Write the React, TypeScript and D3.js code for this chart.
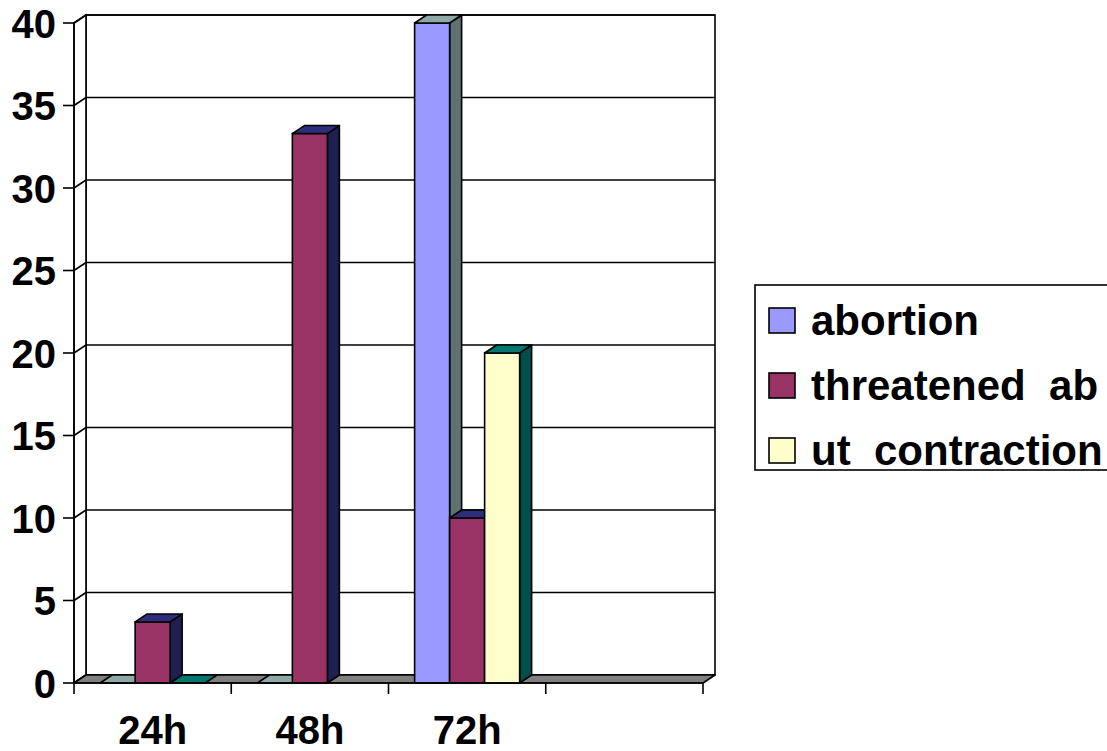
import React from "react";
import * as d3 from "d3";

const categories = ["24h", "48h", "72h", ""];
const seriesNames = ["abortion", "threatened  ab", "ut  contraction"];
const abortion: (number | null)[] = [0, 0, 40, null];
const threatened: (number | null)[] = [3.7, 33.3, 10, null];
const utContraction: (number | null)[] = [0, null, 20, null];
const yTicks = [0, 5, 10, 15, 20, 25, 30, 35, 40];

const frontColors = ["#9999FF", "#993366", "#FFFFCC"];
const topColors = ["#8EA7A7", "#2D2D7C", "#00786F"];
const sideColors = ["#5F7272", "#1F1F52", "#004F4B"];

const W = 1107;
const H = 751;
const DX = 12;
const DY = -8;
const FONT = "'Liberation Sans', Arial, sans-serif";

export default function App() {
  const series = [abortion, threatened, utContraction];
  const x = d3.scaleBand<string>().domain(categories.map((c, i) => String(i))).range([74, 703]).paddingInner(0).paddingOuter(0);
  const inner = d3.scaleBand<string>().domain(seriesNames).range([0, x.bandwidth()]).paddingInner(0).paddingOuter(0.746);
  const y = d3.scaleLinear().domain([0, 40]).range([683, 23]);
  const x0 = 74, x1 = 703, y0 = y(0), yTop = y(40);
  const sw = 1.6;

  const pts = (arr: number[][]) => arr.map((p) => p.join(",")).join(" ");

  const bars: React.ReactNode[] = [];
  categories.forEach((c, ci) => {
    series.forEach((s, si) => {
      const v = s[ci];
      if (v === null || v === undefined) return;
      const bx = (x(String(ci)) as number) + (inner(seriesNames[si]) as number);
      const bw = inner.bandwidth();
      const yv = y(v);
      const key = `${ci}-${si}`;
      if (v > 0) {
        bars.push(
          <polygon key={key + "s"} points={pts([[bx + bw, yv], [bx + bw + DX, yv + DY], [bx + bw + DX, y0 + DY], [bx + bw, y0]])}
            fill={sideColors[si]} stroke="#000" strokeWidth={sw} strokeLinejoin="round" />
        );
        bars.push(
          <rect key={key + "f"} x={bx} y={yv} width={bw} height={y0 - yv} fill={frontColors[si]} stroke="#000" strokeWidth={sw} />
        );
      }
      bars.push(
        <polygon key={key + "t"} points={pts([[bx, yv], [bx + DX, yv + DY], [bx + bw + DX, yv + DY], [bx + bw, yv]])}
          fill={topColors[si]} stroke="#000" strokeWidth={sw} strokeLinejoin="round" />
      );
    });
  });

  return (
    <svg width={W} height={H} style={{ position: "absolute", left: 0, top: 0, display: "block" }}>
      <rect x={0} y={0} width={W} height={H} fill="#fff" />
      {/* back wall */}
      <rect x={x0 + DX} y={yTop + DY} width={x1 - x0} height={y0 - yTop} fill="#fff" stroke="#000" strokeWidth={sw} />
      {/* side wall */}
      <polygon points={pts([[x0, y0], [x0 + DX, y0 + DY], [x0 + DX, yTop + DY], [x0, yTop]])} fill="#fff" stroke="#000" strokeWidth={sw} />
      {yTicks.map((t) => (
        <g key={"g" + t}>
          <line x1={x0 + DX} x2={x1 + DX} y1={y(t) + DY} y2={y(t) + DY} stroke="#000" strokeWidth={sw} />
          <line x1={x0} x2={x0 + DX} y1={y(t)} y2={y(t) + DY} stroke="#000" strokeWidth={sw} />
        </g>
      ))}
      {/* floor */}
      <polygon points={pts([[x0, y0], [x0 + DX, y0 + DY], [x1 + DX, y0 + DY], [x1, y0]])} fill="#808080" stroke="#000" strokeWidth={sw} strokeLinejoin="round" />
      {bars}
      {/* axes */}
      <line x1={x0} x2={x0} y1={yTop} y2={y0 + 11} stroke="#000" strokeWidth={sw} />
      <line x1={x0} x2={x1} y1={y0} y2={y0} stroke="#000" strokeWidth={sw} />
      {yTicks.map((t) => (
        <g key={"t" + t}>
          <line x1={x0 - 11} x2={x0} y1={y(t)} y2={y(t)} stroke="#000" strokeWidth={sw} />
          <text x={56} y={y(t) + 14.5} textAnchor="end" fontFamily={FONT} fontWeight="bold" fontSize={40} fill="#000">{t}</text>
        </g>
      ))}
      {categories.map((c, i) => (
        <line key={"ct" + i} x1={(x(String(i)) as number) + x.bandwidth()} x2={(x(String(i)) as number) + x.bandwidth()} y1={y0} y2={y0 + 11} stroke="#000" strokeWidth={sw} />
      ))}
      {categories.map((c, i) => (
        <text key={"cl" + i} x={(x(String(i)) as number) + x.bandwidth() / 2} y={744} textAnchor="middle" fontFamily={FONT} fontWeight="bold" fontSize={40} fill="#000">{c}</text>
      ))}
      {/* legend */}
      <rect x={755} y={285} width={380} height={185} fill="#fff" stroke="#000" strokeWidth={sw} />
      {seriesNames.map((n, i) => (
        <g key={"lg" + i}>
          <rect x={769} y={308 + i * 65} width={26} height={25} fill={frontColors[i]} stroke="#000" strokeWidth={sw} />
          <text x={811} y={335 + i * 65} fontFamily={FONT} fontWeight="bold" fontSize={42} fill="#000" style={{ whiteSpace: "pre" }}>{n}</text>
        </g>
      ))}
    </svg>
  );
}
